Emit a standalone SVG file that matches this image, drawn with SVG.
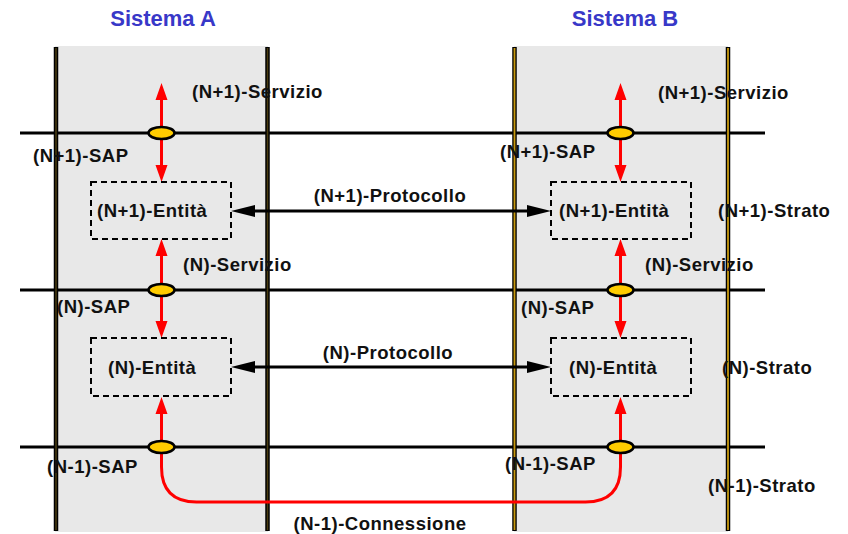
<svg xmlns="http://www.w3.org/2000/svg" width="848" height="534" viewBox="0 0 848 534">
<style>
.sys{fill:#e8e8e8;stroke:none}
.vb{stroke:#000;stroke-width:4.5;fill:none}
.vA{stroke:#4a3c10;stroke-width:1.5;fill:none}
.vB{stroke:#c89a10;stroke-width:1.8;fill:none}
.hl{stroke:#000;stroke-width:3;fill:none}
.sap{fill:#ffcc00;stroke:#000;stroke-width:2.5}
.ent{fill:none;stroke:#000;stroke-width:2;stroke-dasharray:6,4}
.red{stroke:#ff0000;stroke-width:3;fill:none}
.blk{stroke:#000;stroke-width:3;fill:none}
text{font-family:"Liberation Sans",Arial,sans-serif;font-weight:bold;font-size:18.5px;fill:#111;letter-spacing:0.5px}
.title{font-size:22px;fill:#3838c8;letter-spacing:0}
</style>

<g id="sistemaA">
<rect class="sys" x="55" y="46" width="213" height="486"/>
<text class="title" x="163" y="26" text-anchor="middle">Sistema A</text>
</g>
<g id="sistemaB">
<rect class="sys" x="514" y="46" width="214" height="486"/>
<text class="title" x="625" y="26" text-anchor="middle">Sistema B</text>
</g>

<g id="layers">
<line class="hl" x1="20" y1="133" x2="765" y2="133"/>
<line class="hl" x1="20" y1="290" x2="765" y2="290"/>
<line class="hl" x1="20" y1="447" x2="765" y2="447"/>
<line class="vb" x1="56" y1="47" x2="56" y2="531"/>
<line class="vA" x1="56" y1="48" x2="56" y2="530"/>
<line class="vb" x1="267.5" y1="47" x2="267.5" y2="531"/>
<line class="vA" x1="267.5" y1="48" x2="267.5" y2="530"/>
<line class="vb" x1="514.5" y1="47" x2="514.5" y2="531"/>
<line class="vB" x1="514.5" y1="48" x2="514.5" y2="530"/>
<line class="vb" x1="728" y1="47" x2="728" y2="531"/>
<line class="vB" x1="728" y1="48" x2="728" y2="530"/>
</g>

<g id="connectors">
<line class="red" x1="161.5" y1="100" x2="161.5" y2="165"/>
<path d="M155.5,100 L161.5,83 L167.5,100 Z M155.5,165 L161.5,182 L167.5,165 Z" fill="#ff0000"/>
<line class="red" x1="620.5" y1="100" x2="620.5" y2="165"/>
<path d="M614.5,100 L620.5,83 L626.5,100 Z M614.5,165 L620.5,182 L626.5,165 Z" fill="#ff0000"/>
<line class="red" x1="161.5" y1="256" x2="161.5" y2="321"/>
<path d="M155.5,256 L161.5,239 L167.5,256 Z M155.5,321 L161.5,338 L167.5,321 Z" fill="#ff0000"/>
<line class="red" x1="620.5" y1="256" x2="620.5" y2="321"/>
<path d="M614.5,256 L620.5,239 L626.5,256 Z M614.5,321 L620.5,338 L626.5,321 Z" fill="#ff0000"/>
<path class="red" d="M161.5,413 L161.5,467 Q161.5,502 196.5,502 L585.5,502 Q620.5,502 620.5,467 L620.5,413"/>
<path d="M155.5,414 L161.5,397 L167.5,414 Z M614.5,414 L620.5,397 L626.5,414 Z" fill="#ff0000"/>
<line class="blk" x1="253" y1="211" x2="529" y2="211"/>
<path d="M231,211 L255,205 L255,217 Z M551,211 L527,205 L527,217 Z" fill="#000"/>
<line class="blk" x1="253" y1="367" x2="529" y2="367"/>
<path d="M231,367 L255,361 L255,373 Z M551,367 L527,361 L527,373 Z" fill="#000"/>
</g>

<g id="sapA1"><ellipse class="sap" cx="161.5" cy="133" rx="13" ry="6"/></g>
<g id="sapB1"><ellipse class="sap" cx="620.5" cy="133" rx="13" ry="6"/></g>
<g id="sapA2"><ellipse class="sap" cx="161.5" cy="290" rx="13" ry="6"/></g>
<g id="sapB2"><ellipse class="sap" cx="620.5" cy="290" rx="13" ry="6"/></g>
<g id="sapA3"><ellipse class="sap" cx="161.5" cy="447" rx="13" ry="6"/></g>
<g id="sapB3"><ellipse class="sap" cx="620.5" cy="447" rx="13" ry="6"/></g>

<g id="entA1"><rect class="ent" x="91" y="182" width="140" height="57"/><text x="97" y="217">(N+1)-Entità</text></g>
<g id="entB1"><rect class="ent" x="551" y="182" width="140" height="57"/><text x="559" y="217">(N+1)-Entità</text></g>
<g id="entA2"><rect class="ent" x="91" y="338" width="140" height="58"/><text x="108" y="374">(N)-Entità</text></g>
<g id="entB2"><rect class="ent" x="551" y="338" width="140" height="58"/><text x="569" y="374">(N)-Entità</text></g>

<g id="labels">
<text x="192" y="98">(N+1)-Servizio</text>
<text x="658" y="99">(N+1)-Servizio</text>
<text x="33" y="162">(N+1)-SAP</text>
<text x="500" y="158">(N+1)-SAP</text>
<text x="718" y="217">(N+1)-Strato</text>
<text x="390" y="202" text-anchor="middle">(N+1)-Protocollo</text>
<text x="183" y="271">(N)-Servizio</text>
<text x="645" y="271">(N)-Servizio</text>
<text x="57" y="313">(N)-SAP</text>
<text x="521" y="314">(N)-SAP</text>
<text x="388" y="359" text-anchor="middle">(N)-Protocollo</text>
<text x="722" y="374">(N)-Strato</text>
<text x="47" y="473">(N-1)-SAP</text>
<text x="505" y="470">(N-1)-SAP</text>
<text x="708" y="492">(N-1)-Strato</text>
<text x="380" y="530" text-anchor="middle">(N-1)-Connessione</text>
</g>
</svg>
